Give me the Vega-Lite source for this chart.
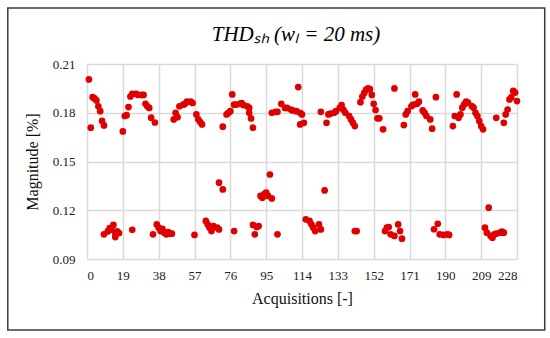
{
  "$schema": "https://vega.github.io/schema/vega-lite/v6.json",
  "width": 430,
  "height": 195,
  "autosize": {"type": "none"},
  "padding": {"left": 87, "top": 64, "right": 33, "bottom": 79},
  "background": "white",
  "title": {
    "text": "THDₛₕ (wₗ = 20 ms)",
    "font": "Liberation Serif",
    "fontSize": 21,
    "fontStyle": "italic",
    "fontWeight": "normal",
    "color": "#000000",
    "offset": -38,
    "anchor": "middle",
    "dx": -6
  },
  "config": {
    "view": {"stroke": null},
    "axis": {
      "labelFont": "Liberation Serif",
      "titleFont": "Liberation Serif",
      "labelColor": "#222222",
      "titleColor": "#111111",
      "labelFontSize": 13,
      "titleFontSize": 16,
      "titleFontWeight": "normal",
      "gridColor": "#d9d9d9",
      "gridWidth": 1.5,
      "grid": true,
      "labelOverlap": false,
      "domain": false,
      "ticks": false
    }
  },
  "layer": [
    {
      "data": {"values": [{"frame": "border"}]},
      "mark": {"type": "rect", "filled": false, "stroke": "#3a3a3a", "strokeWidth": 1.5},
      "encoding": {
        "x": {
          "datum": -42,
          "type": "quantitative",
          "scale": {"domain": [0, 228], "nice": false, "zero": false},
          "axis": {
            "values": [0, 19, 38, 57, 76, 95, 114, 133, 152, 171, 190, 209, 228],
            "title": "Acquisitions [-]",
            "labelPadding": 10,
            "titlePadding": 8,
            "labelOverlap": false
          }
        },
        "x2": {"datum": 242.7},
        "y": {
          "datum": 0.2445,
          "type": "quantitative",
          "scale": {"domain": [0.09, 0.21], "nice": false, "zero": false},
          "axis": {
            "values": [0.09, 0.12, 0.15, 0.18, 0.21],
            "format": ".2f",
            "title": "Magnitude [%]",
            "labelPadding": 12,
            "titlePadding": 12
          }
        },
        "y2": {"datum": 0.0463}
      }
    },
    {
      "data": {
        "values": [
          {"a": 1, "m": 0.2005}, {"a": 2, "m": 0.1708}, {"a": 3, "m": 0.1896}, {"a": 4, "m": 0.1888},
          {"a": 5, "m": 0.1876}, {"a": 6, "m": 0.184}, {"a": 7, "m": 0.181}, {"a": 8, "m": 0.175},
          {"a": 9, "m": 0.1722}, {"a": 9, "m": 0.1052}, {"a": 11, "m": 0.107}, {"a": 12, "m": 0.109},
          {"a": 13, "m": 0.108}, {"a": 14, "m": 0.111}, {"a": 15, "m": 0.105}, {"a": 15, "m": 0.1035},
          {"a": 16, "m": 0.107}, {"a": 17, "m": 0.106}, {"a": 19, "m": 0.1685}, {"a": 20, "m": 0.178},
          {"a": 21, "m": 0.1785}, {"a": 22, "m": 0.1835}, {"a": 23, "m": 0.19}, {"a": 24, "m": 0.1917},
          {"a": 24, "m": 0.108}, {"a": 26, "m": 0.1917}, {"a": 27, "m": 0.191}, {"a": 29, "m": 0.191},
          {"a": 30, "m": 0.191}, {"a": 31, "m": 0.1855}, {"a": 32, "m": 0.184}, {"a": 33, "m": 0.183},
          {"a": 34, "m": 0.177}, {"a": 35, "m": 0.1052}, {"a": 36, "m": 0.174}, {"a": 37, "m": 0.1113},
          {"a": 38, "m": 0.1093}, {"a": 39, "m": 0.1072}, {"a": 40, "m": 0.1085}, {"a": 41, "m": 0.1062},
          {"a": 42, "m": 0.1052}, {"a": 43, "m": 0.1065}, {"a": 44, "m": 0.1056}, {"a": 45, "m": 0.1056},
          {"a": 46, "m": 0.1759}, {"a": 47, "m": 0.18}, {"a": 48, "m": 0.1773}, {"a": 49, "m": 0.184},
          {"a": 51, "m": 0.185}, {"a": 52, "m": 0.1855}, {"a": 53, "m": 0.1868}, {"a": 55, "m": 0.1868},
          {"a": 56, "m": 0.186}, {"a": 57, "m": 0.1048}, {"a": 58, "m": 0.179}, {"a": 59, "m": 0.176},
          {"a": 60, "m": 0.1743}, {"a": 61, "m": 0.1728}, {"a": 63, "m": 0.1134}, {"a": 64, "m": 0.1113},
          {"a": 65, "m": 0.1093}, {"a": 66, "m": 0.1072}, {"a": 67, "m": 0.1103}, {"a": 69, "m": 0.1093},
          {"a": 70, "m": 0.1082}, {"a": 70, "m": 0.137}, {"a": 72, "m": 0.1328}, {"a": 72, "m": 0.1714},
          {"a": 74, "m": 0.179}, {"a": 75, "m": 0.18}, {"a": 76, "m": 0.181}, {"a": 77, "m": 0.1913},
          {"a": 78, "m": 0.1072}, {"a": 78, "m": 0.185}, {"a": 79, "m": 0.185}, {"a": 81, "m": 0.1855},
          {"a": 82, "m": 0.186}, {"a": 83, "m": 0.1847}, {"a": 85, "m": 0.184}, {"a": 86, "m": 0.183},
          {"a": 86, "m": 0.18}, {"a": 87, "m": 0.1765}, {"a": 88, "m": 0.1708}, {"a": 88, "m": 0.111},
          {"a": 89, "m": 0.1052}, {"a": 90, "m": 0.1097}, {"a": 91, "m": 0.1103}, {"a": 92, "m": 0.1288},
          {"a": 93, "m": 0.1277}, {"a": 94, "m": 0.13}, {"a": 95, "m": 0.1308}, {"a": 96, "m": 0.1288},
          {"a": 97, "m": 0.142}, {"a": 98, "m": 0.1273}, {"a": 98, "m": 0.18}, {"a": 100, "m": 0.1806},
          {"a": 101, "m": 0.1052}, {"a": 101, "m": 0.1806}, {"a": 103, "m": 0.1855}, {"a": 105, "m": 0.183},
          {"a": 106, "m": 0.183}, {"a": 108, "m": 0.182}, {"a": 109, "m": 0.1814}, {"a": 111, "m": 0.181},
          {"a": 112, "m": 0.1958}, {"a": 113, "m": 0.18}, {"a": 113, "m": 0.1728}, {"a": 114, "m": 0.179},
          {"a": 115, "m": 0.1738}, {"a": 116, "m": 0.1144}, {"a": 118, "m": 0.1134}, {"a": 119, "m": 0.1113},
          {"a": 120, "m": 0.1093}, {"a": 121, "m": 0.1072}, {"a": 123, "m": 0.1113}, {"a": 124, "m": 0.1082},
          {"a": 124, "m": 0.1806}, {"a": 126, "m": 0.1322}, {"a": 127, "m": 0.1738}, {"a": 128, "m": 0.179},
          {"a": 129, "m": 0.1794}, {"a": 131, "m": 0.18}, {"a": 132, "m": 0.181}, {"a": 134, "m": 0.183},
          {"a": 135, "m": 0.1847}, {"a": 136, "m": 0.1818}, {"a": 137, "m": 0.18}, {"a": 139, "m": 0.178},
          {"a": 140, "m": 0.1759}, {"a": 141, "m": 0.1738}, {"a": 142, "m": 0.1718}, {"a": 142, "m": 0.1072},
          {"a": 143, "m": 0.1072}, {"a": 145, "m": 0.1865}, {"a": 146, "m": 0.19}, {"a": 147, "m": 0.1922},
          {"a": 148, "m": 0.1942}, {"a": 149, "m": 0.195}, {"a": 150, "m": 0.1945}, {"a": 151, "m": 0.191},
          {"a": 152, "m": 0.1855}, {"a": 153, "m": 0.1817}, {"a": 154, "m": 0.1766}, {"a": 155, "m": 0.1766},
          {"a": 157, "m": 0.1698}, {"a": 158, "m": 0.1072}, {"a": 159, "m": 0.1093}, {"a": 160, "m": 0.1097},
          {"a": 161, "m": 0.1052}, {"a": 163, "m": 0.1042}, {"a": 163, "m": 0.195}, {"a": 165, "m": 0.1113},
          {"a": 166, "m": 0.1072}, {"a": 167, "m": 0.1025}, {"a": 168, "m": 0.1724}, {"a": 169, "m": 0.179},
          {"a": 170, "m": 0.181}, {"a": 172, "m": 0.184}, {"a": 173, "m": 0.185}, {"a": 174, "m": 0.1913},
          {"a": 175, "m": 0.1855}, {"a": 176, "m": 0.1868}, {"a": 178, "m": 0.1814}, {"a": 179, "m": 0.18},
          {"a": 180, "m": 0.178}, {"a": 182, "m": 0.1759}, {"a": 183, "m": 0.1702}, {"a": 184, "m": 0.1083},
          {"a": 185, "m": 0.1896}, {"a": 186, "m": 0.1117}, {"a": 187, "m": 0.1052}, {"a": 189, "m": 0.1048},
          {"a": 191, "m": 0.1052}, {"a": 192, "m": 0.1048}, {"a": 194, "m": 0.1718}, {"a": 195, "m": 0.178},
          {"a": 196, "m": 0.1913}, {"a": 197, "m": 0.1769}, {"a": 198, "m": 0.179}, {"a": 199, "m": 0.1831},
          {"a": 200, "m": 0.1851}, {"a": 201, "m": 0.1868}, {"a": 202, "m": 0.1862}, {"a": 204, "m": 0.1841},
          {"a": 205, "m": 0.1831}, {"a": 206, "m": 0.18}, {"a": 207, "m": 0.178}, {"a": 208, "m": 0.1749},
          {"a": 209, "m": 0.1718}, {"a": 210, "m": 0.1698}, {"a": 211, "m": 0.1093}, {"a": 212, "m": 0.1062},
          {"a": 213, "m": 0.1216}, {"a": 214, "m": 0.1042}, {"a": 215, "m": 0.1031}, {"a": 216, "m": 0.1052},
          {"a": 217, "m": 0.1056}, {"a": 217, "m": 0.1769}, {"a": 219, "m": 0.1062}, {"a": 220, "m": 0.1068},
          {"a": 221, "m": 0.1062}, {"a": 221, "m": 0.1738}, {"a": 222, "m": 0.179}, {"a": 223, "m": 0.182},
          {"a": 224, "m": 0.1882}, {"a": 225, "m": 0.1896}, {"a": 226, "m": 0.1934}, {"a": 227, "m": 0.1924},
          {"a": 228, "m": 0.1872}
        ]
      },
      "mark": {"type": "point", "filled": true, "color": "#e00000", "opacity": 1, "size": 45},
      "encoding": {
        "x": {
          "field": "a",
          "type": "quantitative",
          "scale": {"domain": [0, 228], "nice": false, "zero": false},
          "axis": {
            "values": [0, 19, 38, 57, 76, 95, 114, 133, 152, 171, 190, 209, 228],
            "title": "Acquisitions [-]",
            "labelPadding": 10,
            "titlePadding": 8,
            "labelOverlap": false
          }
        },
        "y": {
          "field": "m",
          "type": "quantitative",
          "scale": {"domain": [0.09, 0.21], "nice": false, "zero": false},
          "axis": {
            "values": [0.09, 0.12, 0.15, 0.18, 0.21],
            "format": ".2f",
            "title": "Magnitude [%]",
            "labelPadding": 12,
            "titlePadding": 12
          }
        }
      }
    }
  ]
}
